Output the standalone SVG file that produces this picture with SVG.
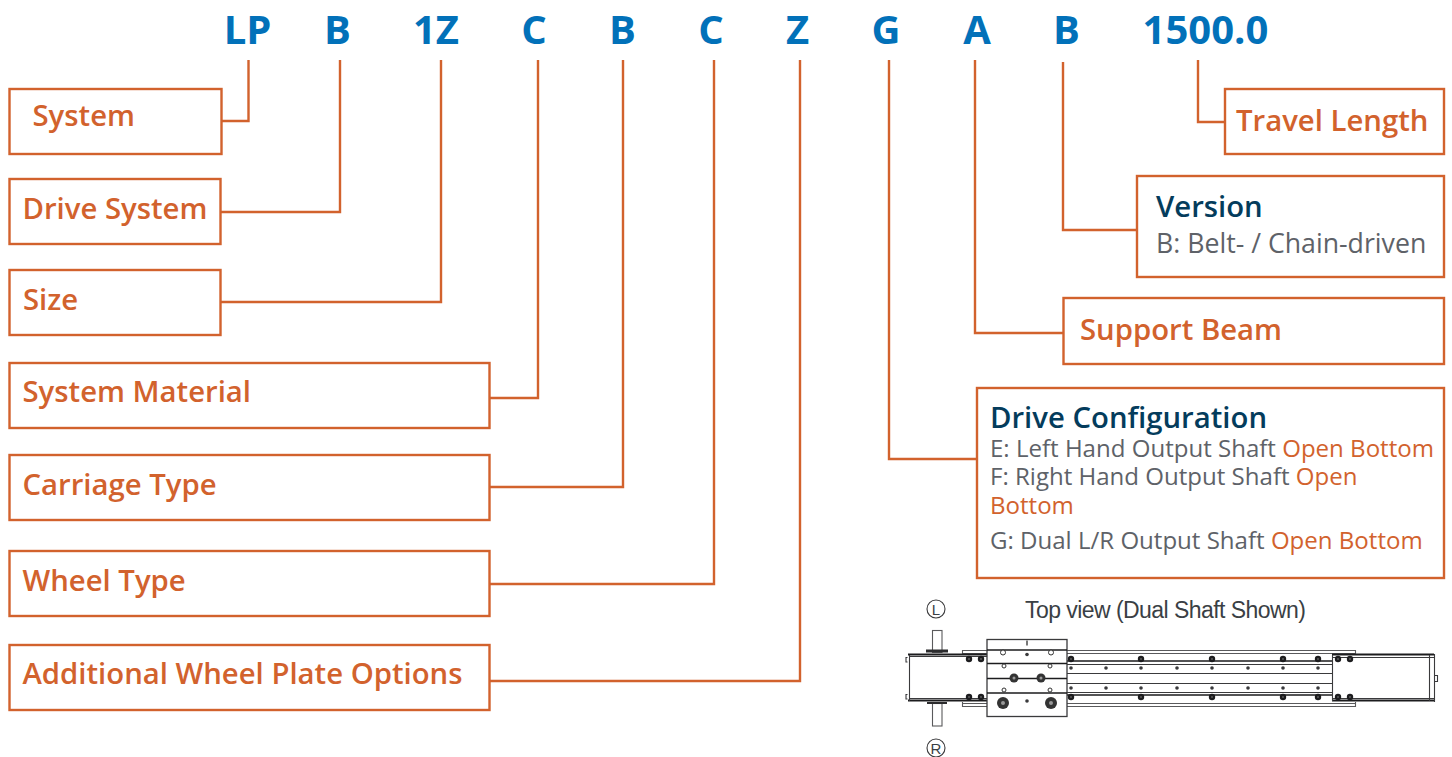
<svg xmlns="http://www.w3.org/2000/svg" width="1452" height="757" viewBox="0 0 1452 757">
<defs>
<style>
text{font-family:"Open Sans","Noto Sans","Liberation Sans",sans-serif}
.code{font-size:40px;font-weight:700;fill:#0271b9;text-anchor:middle}
.box{fill:#fff;stroke:#d2622d;stroke-width:2.4}
.lab{font-size:29.3px;font-weight:600;fill:#d2622d}
.head{font-size:29.3px;font-weight:600;fill:#043c5c}
.det{font-size:24.05px;fill:#5e6268}
.or{fill:#d2622d}
.conn{fill:none;stroke:#d2622d;stroke-width:2.4}
.l{fill:none;stroke:#3a3a3c;stroke-width:1.1}
.m{fill:none;stroke:#5a5a5c;stroke-width:1.1}
.k{fill:none;stroke:#1c1c1e;stroke-width:2}
.ph{font-family:"Liberation Sans",sans-serif;font-size:23px;fill:#3a3f45;letter-spacing:-.55px}
.cir{font-family:"Liberation Sans",sans-serif;font-size:15px;fill:#3a3f45;text-anchor:middle}
</style>
<g id="bolt"><circle r="3.200" fill="#1c1c1e"/><circle r=".8" fill="#888"/></g>
<circle id="dot" r="1.8" fill="#3a3a3c"/>
</defs>
<g id="codes">
<text class="code" x="247.500" y="44">LP</text>
<text class="code" x="337.500" y="44">B</text>
<text class="code" x="436" y="44">1Z</text>
<text class="code" x="534" y="44">C</text>
<text class="code" x="622.500" y="44">B</text>
<text class="code" x="711" y="44">C</text>
<text class="code" x="797.500" y="44">Z</text>
<text class="code" x="886" y="44">G</text>
<text class="code" x="977" y="44">A</text>
<text class="code" x="1066.500" y="44">B</text>
<text class="code" x="1205.500" y="44">1500.0</text>
</g>
<g id="connectors">
<path class="conn" d="M221 121H248.500V60"/>
<path class="conn" d="M220 212H340V60"/>
<path class="conn" d="M220 302H441V60"/>
<path class="conn" d="M489 398H538V60"/>
<path class="conn" d="M489 487H623V60"/>
<path class="conn" d="M489 584H714V60"/>
<path class="conn" d="M489 681H800V60"/>
<path class="conn" d="M977 459H889V60"/>
<path class="conn" d="M1063 333H975V60"/>
<path class="conn" d="M1137 230H1063V62"/>
<path class="conn" d="M1225 122H1198V60"/>
</g>
<g id="node-system"><rect class="box" x="9.500" y="89" width="212" height="65"/><text class="lab" x="32.500" y="126">System</text></g>
<g id="node-drive-system"><rect class="box" x="9.500" y="179" width="211" height="65"/><text class="lab" x="22.500" y="219">Drive System</text></g>
<g id="node-size"><rect class="box" x="9.500" y="270" width="211" height="65"/><text class="lab" x="23" y="310">Size</text></g>
<g id="node-system-material"><rect class="box" x="9.500" y="363" width="480" height="65"/><text class="lab" x="22.500" y="402">System Material</text></g>
<g id="node-carriage-type"><rect class="box" x="9.500" y="455" width="480" height="65"/><text class="lab" x="22.500" y="495">Carriage Type</text></g>
<g id="node-wheel-type"><rect class="box" x="9.500" y="551" width="480" height="65"/><text class="lab" x="22.500" y="591">Wheel Type</text></g>
<g id="node-wheel-plate"><rect class="box" x="9.500" y="645" width="480" height="65"/><text class="lab" x="22.500" y="684">Additional Wheel Plate Options</text></g>
<g id="node-travel-length"><rect class="box" x="1225" y="89" width="219" height="65"/><text class="lab" x="1236" y="131">Travel Length</text></g>
<g id="node-version"><rect class="box" x="1137" y="176" width="307" height="101"/><text class="head" x="1156" y="217">Version</text><text class="det" x="1156" y="253" style="font-size:26.7px">B: Belt- / Chain-driven</text></g>
<g id="node-support-beam"><rect class="box" x="1063.500" y="298" width="380.500" height="66"/><text class="lab" x="1080" y="340">Support Beam</text></g>
<g id="node-drive-configuration"><rect class="box" x="977" y="388" width="467" height="190"/>
<text class="head" x="990" y="428">Drive Configuration</text>
<text class="det" x="990" y="457">E: Left Hand Output Shaft <tspan class="or">Open Bottom</tspan></text>
<text class="det" x="990" y="485">F: Right Hand Output Shaft <tspan class="or">Open</tspan></text>
<text class="det or" x="990" y="514">Bottom</text>
<text class="det" x="990" y="549">G: Dual L/R Output Shaft <tspan class="or">Open Bottom</tspan></text>
</g>
<g id="top-view">
<text class="ph" x="1025" y="617.500">Top view (Dual Shaft Shown)</text>
<circle class="l" cx="936" cy="609" r="9"/><text class="cir" x="936" y="614.500">L</text>
<circle class="l" cx="936" cy="748" r="9"/><text class="cir" x="936" y="753.500">R</text>
<rect class="m" x="932.500" y="630.500" width="9.500" height="22"/>
<rect class="m" x="932.500" y="703.500" width="9.500" height="22.500"/>
<rect x="926" y="649.500" width="22" height="3" fill="#2b2b2d"/>
<rect x="927" y="702" width="20" height="2" fill="#2b2b2d"/>
<path class="m" d="M962.500 650.500H987M962.500 653.500H987M962.500 703.500H987M962.500 706.500H987M962.500 650V654M962.500 702V707"/>
<path class="m" d="M1067 650.500H1355.500V654M1067 653.500H1355M1067 706.500H1355.500V702M1067 703.500H1355"/>
<path class="l" d="M1067 664.500H1332M1067 673.500H1332M1067 683.500H1332M1067 692.500H1332"/>
<path class="k" d="M1067 661H1332M1067 695H1332" style="stroke-width:1.600"/>
<path class="k" d="M908 654.500H987M908 700.500H987"/>
<path class="l" d="M909 656.500H987M909 698.500H987M909.500 655V701M907.500 657.500H906V662H907.500M907.500 694.500H906V699H907.500"/>
<path class="k" d="M1332 654.500H1434M1332 700.500H1434"/>
<path class="l" d="M1332 657.500H1434M1332 698.500H1434M1332.500 655V701M1429.500 655V701M1434.500 654V702M1434 675.500H1437.500V681.500H1434"/>
<rect class="l" x="987" y="639.500" width="80" height="77" style="stroke-width:1.300"/>
<path class="k" d="M987 650H1067M987 663.500H1067M987 678.500H1067M987 693H1067" style="stroke-width:1.400"/>
<use href="#bolt" x="969" y="659"/><use href="#bolt" x="981" y="659"/><use href="#bolt" x="969" y="697"/><use href="#bolt" x="981" y="697"/>
<use href="#bolt" x="1071" y="659"/><use href="#bolt" x="1141" y="659"/><use href="#bolt" x="1212" y="659"/><use href="#bolt" x="1283" y="659"/><use href="#bolt" x="1318" y="659"/>
<use href="#bolt" x="1071" y="697"/><use href="#bolt" x="1141" y="697"/><use href="#bolt" x="1212" y="697"/><use href="#bolt" x="1283" y="697"/><use href="#bolt" x="1318" y="697"/>
<use href="#bolt" x="1338" y="659"/><use href="#bolt" x="1350" y="659"/><use href="#bolt" x="1338" y="697"/><use href="#bolt" x="1350" y="697"/>
<use href="#dot" x="1071" y="668"/><use href="#dot" x="1106" y="668"/><use href="#dot" x="1141" y="668"/><use href="#dot" x="1177" y="668"/><use href="#dot" x="1212" y="668"/><use href="#dot" x="1248" y="668"/><use href="#dot" x="1283" y="668"/><use href="#dot" x="1318" y="668"/>
<use href="#dot" x="1071" y="688"/><use href="#dot" x="1106" y="688"/><use href="#dot" x="1141" y="688"/><use href="#dot" x="1177" y="688"/><use href="#dot" x="1212" y="688"/><use href="#dot" x="1248" y="688"/><use href="#dot" x="1283" y="688"/><use href="#dot" x="1318" y="688"/>
<rect x="1026" y="640.500" width="2" height="5" fill="#777"/>
<circle cx="1003" cy="652.500" r="2.500" fill="#fff" stroke="#333"/><circle cx="1051" cy="652.500" r="2.500" fill="#fff" stroke="#333"/><use href="#dot" x="1027" y="654.500"/>
<circle cx="1004" cy="666" r="2" fill="#fff" stroke="#333"/><circle cx="1050" cy="666" r="2" fill="#fff" stroke="#333"/>
<circle cx="1014" cy="678" r="4.500" fill="#333"/><circle cx="1014" cy="678" r="1.500" fill="#999"/><circle cx="1041" cy="678" r="4.500" fill="#333"/><circle cx="1041" cy="678" r="1.500" fill="#999"/>
<circle cx="1004" cy="690" r="2" fill="#fff" stroke="#333"/><circle cx="1050" cy="690" r="2" fill="#fff" stroke="#333"/>
<circle cx="1003" cy="703" r="6" fill="#333"/><circle cx="1003" cy="703" r="2" fill="#999"/><circle cx="1051" cy="703" r="6" fill="#333"/><circle cx="1051" cy="703" r="2" fill="#999"/><use href="#dot" x="1027" y="701"/>
</g>
</svg>
